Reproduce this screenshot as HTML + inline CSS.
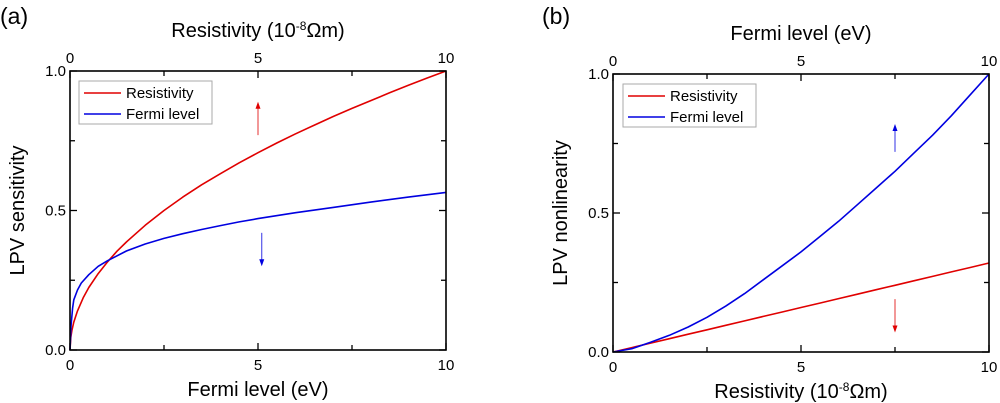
<!DOCTYPE html>
<html><head><meta charset="utf-8"><style>
body{margin:0;background:#fff}
svg{display:block;font-family:"Liberation Sans",sans-serif}
</style></head><body>
<svg id="c" width="1000" height="403" viewBox="0 0 1000 403"></svg>
<script>
const xsA = [0,0.02,0.05,0.1,0.2,0.35,0.5,0.75,1,1.25,1.5,2,2.5,3,3.5,4,4.5,5,5.5,6,6.5,7,7.5,8,8.5,9,9.5,10];
const redA = [0,0.045,0.07,0.1,0.14,0.187,0.224,0.274,0.316,0.354,0.387,0.447,0.5,0.548,0.592,0.632,0.671,0.707,0.742,0.775,0.806,0.837,0.866,0.894,0.922,0.949,0.975,1.0];
const xsA2 = [0,0.03,0.07,0.1,0.2,0.3,0.5,0.75,1,1.5,2,2.5,3,3.5,4,4.5,5,6,7,8,9,10];
const blueA = [0,0.09,0.15,0.18,0.215,0.24,0.27,0.30,0.32,0.355,0.38,0.40,0.417,0.432,0.446,0.459,0.471,0.492,0.511,0.53,0.548,0.565];
const xsB = [0,0.5,1,1.5,2,2.5,3,3.5,4,4.5,5,5.5,6,6.5,7,7.5,8,8.5,9,9.5,10];
const redB = [0,0.016,0.032,0.048,0.064,0.08,0.096,0.112,0.128,0.144,0.16,0.176,0.192,0.208,0.224,0.24,0.256,0.272,0.288,0.304,0.32];
const blueB = [0,0.012,0.035,0.06,0.09,0.125,0.165,0.21,0.26,0.31,0.36,0.415,0.47,0.53,0.59,0.65,0.715,0.78,0.85,0.925,1.0];
const xTicks = ["0","5","10"];
const yTicks = ["0.0","0.5","1.0"];
const NS="http://www.w3.org/2000/svg";
const svg=document.getElementById('c');
function mk(t,a,p){const e=document.createElementNS(NS,t);for(const k in a)e.setAttribute(k,a[k]);(p||svg).appendChild(e);return e;}
function panel(o){
  const g=mk('g',{});
  
  
  const X=v=>o.x0+(v/10)*(o.x1-o.x0), Y=v=>o.y1-v*(o.y1-o.y0);
  for(let i=0;i<=4;i++){const v=i*2.5;const L=(i%2==0)?7:5;
    mk('line',{x1:X(v),x2:X(v),y1:o.y1,y2:o.y1-L,stroke:'#000','stroke-width':1.3},g);
    mk('line',{x1:X(v),x2:X(v),y1:o.y0,y2:o.y0+L,stroke:'#000','stroke-width':1.3},g);
    const yv=i*0.25;
    mk('line',{x1:o.x0,x2:o.x0+L,y1:Y(yv),y2:Y(yv),stroke:'#000','stroke-width':1.3},g);
    mk('line',{x1:o.x1,x2:o.x1-L,y1:Y(yv),y2:Y(yv),stroke:'#000','stroke-width':1.3},g);}
  xTicks.forEach((t,i)=>{const v=i*5;
    let e=mk('text',{x:X(v),y:o.y1+20,'text-anchor':'middle','font-size':15},g);e.textContent=t;
    
    e=mk('text',{x:X(v),y:o.y0-8,'text-anchor':'middle','font-size':15},g);e.textContent=t;
    });
  yTicks.forEach((t,i)=>{const v=i*0.5;
    const e=mk('text',{x:o.x0-4,y:Y(v)+5,'text-anchor':'end','font-size':15},g);e.textContent=t;
    });
  o.series.forEach(s=>{
    const d=s.xs.map((x,i)=>(i?'L':'M')+X(x).toFixed(1)+','+Y(s.ys[i]).toFixed(1)).join('');
    const p=mk('path',{d:d,fill:'none',stroke:s.c,'stroke-width':1.6,'stroke-linejoin':'round'},g);
    
    
  });
  mk('rect',{x:o.x0,y:o.y0,width:o.x1-o.x0,height:o.y1-o.y0,fill:'none',stroke:'#000','stroke-width':1.6},g);
  o.arrows.forEach(a=>{const xa=X(a.x),ya=Y(a.from),yb=Y(a.to);const dir=yb<ya?-1:1;
    const l=mk('line',{x1:xa,x2:xa,y1:ya,y2:yb-dir*6,stroke:a.c,'stroke-width':1,opacity:0.8},g);
    
    mk('path',{d:`M${xa-2.5},${yb-dir*7}L${xa+2.5},${yb-dir*7}L${xa},${yb}Z`,fill:a.c},g);});
  const lg=mk('g',{},g);
  
  
  mk('rect',{x:o.lx,y:o.ly,width:133,height:43,fill:'#fff',stroke:'#aaa','stroke-width':1},lg);
  o.series.forEach((s,i)=>{const yy=o.ly+12+i*21;
    mk('line',{x1:o.lx+5,x2:o.lx+42,y1:yy,y2:yy,stroke:s.c,'stroke-width':1.6},lg);
    const t=mk('text',{x:o.lx+47,y:yy+5,'font-size':15},lg);t.textContent=s.label;
    });
  let t=mk('text',{x:(o.x0+o.x1)/2,y:o.y1+46,'text-anchor':'middle','font-size':20},g);t.innerHTML=o.xt;
  
  t=mk('text',{x:(o.x0+o.x1)/2,y:o.y0-34,'text-anchor':'middle','font-size':20},g);t.innerHTML=o.tt;
  
  t=mk('text',{x:0,y:0,'text-anchor':'middle','font-size':20,transform:`translate(${o.x0-46},${(o.y0+o.y1)/2}) rotate(-90)`},g);t.textContent=o.yt;
  
  t=mk('text',{x:o.px,y:24,'font-size':23},g);t.textContent=o.pl;
  
}
const res='Resistivity (10<tspan dy="-7" font-size="12">-8</tspan><tspan dy="7">Ωm)</tspan>';
panel({name:'panel-a',x0:70,x1:446,y0:71,y1:350,lx:79,ly:81,px:0,pl:'(a)',
  xt:'Fermi level (eV)',tt:res,yt:'LPV sensitivity',
  series:[{n:'resistivity-line',label:'Resistivity',c:'#e00000',xs:xsA,ys:redA},
          {n:'fermi-level-line',label:'Fermi level',c:'#0000e0',xs:xsA2,ys:blueA}],
  arrows:[{x:5,from:0.77,to:0.89,c:'#e00000'},{x:5.1,from:0.42,to:0.30,c:'#0000e0'}]});
panel({name:'panel-b',x0:613,x1:989,y0:74,y1:352,lx:623,ly:84,px:542,pl:'(b)',
  xt:res,tt:'Fermi level (eV)',yt:'LPV nonlinearity',
  series:[{n:'resistivity-line',label:'Resistivity',c:'#e00000',xs:xsB,ys:redB},
          {n:'fermi-level-line',label:'Fermi level',c:'#0000e0',xs:xsB,ys:blueB}],
  arrows:[{x:7.5,from:0.72,to:0.82,c:'#0000e0'},{x:7.5,from:0.19,to:0.07,c:'#e00000'}]});
</script>
</body></html>
